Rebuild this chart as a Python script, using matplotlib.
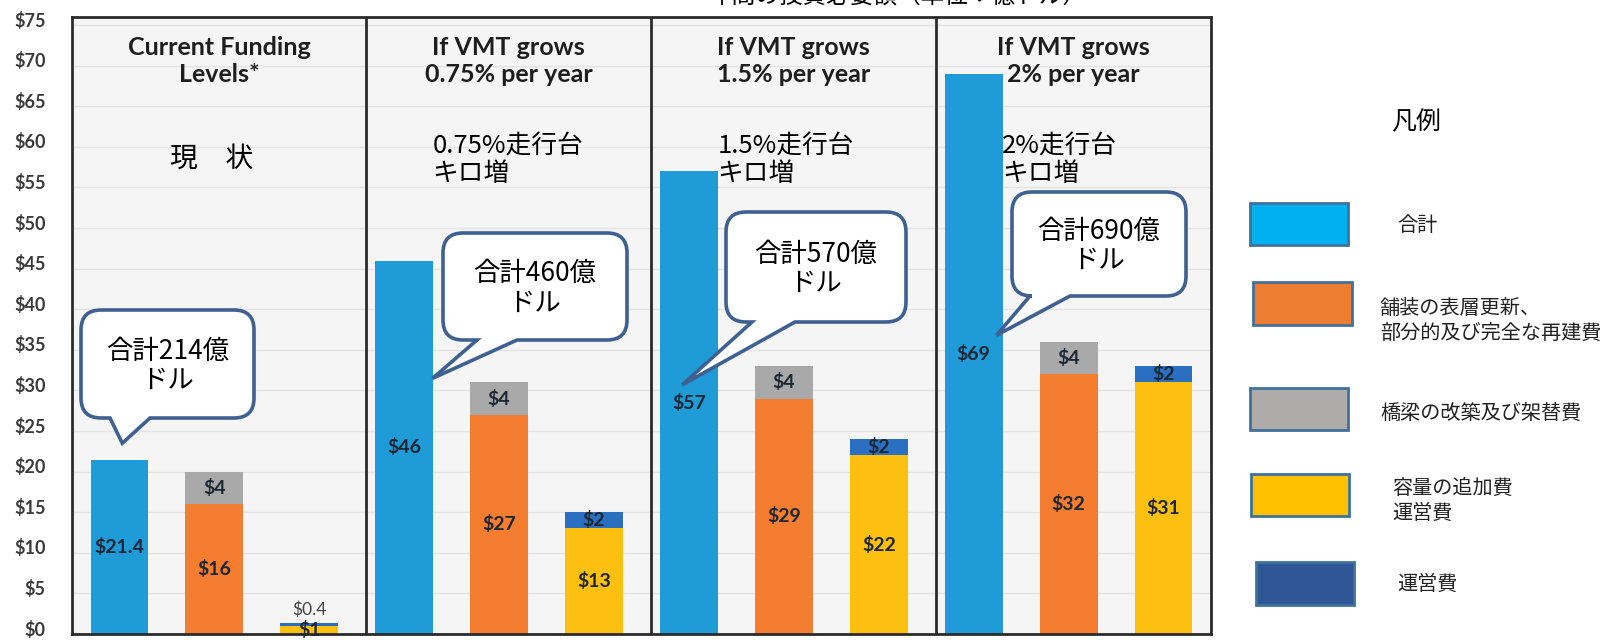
import numpy as np
import matplotlib
matplotlib.use('Agg')
import matplotlib.pyplot as plt
from matplotlib.path import Path
from matplotlib.patches import PathPatch, Rectangle
from matplotlib.transforms import ScaledTranslation

plt.rcParams['font.family'] = ['Lato', 'Noto Sans CJK JP', 'DejaVu Sans']
JP = ['Noto Sans CJK JP', 'DejaVu Sans']

# data
scenarios = ['Current Funding\nLevels*', 'If VMT grows\n0.75% per year',
             'If VMT grows\n1.5% per year', 'If VMT grows\n2% per year']
scenarios_jp = ['現　状', '0.75%走行台\nキロ増', '1.5%走行台\nキロ増', '2%走行台\nキロ増']
total = [21.4, 46, 57, 69]
pavement = [16, 27, 29, 32]
bridge = [4, 4, 4, 4]
capacity = [1, 13, 22, 31]
operations = [0.4, 2, 2, 2]
callout_texts = ['合計214億\nドル', '合計460億\nドル', '合計570億\nドル', '合計690億\nドル']
legend_labels = ['合計', '舗装の表層更新、\n部分的及び完全な再建費', '橋梁の改築及び架替費',
                 '容量の追加費\n運営費', '運営費']
yticks = list(range(0, 80, 5))
title_text = '年間の投資必要額（単位：億ドル）'

# colours
c_total = '#1f9bd7'
c_pave = '#f47d30'
c_bridge = '#a9a9a9'
c_cap = '#fdc010'
c_ops = '#2a6fc0'
leg_colors = ['#00b0f0', '#ed7d31', '#afabab', '#ffc000', '#2f5597']
lab_col = '#1d2733'

W, H = 1622, 644
fig = plt.figure(figsize=(W / 100, H / 100), dpi=100)
ax = fig.add_axes([72 / W, 1 - 634 / H, (1211 - 72) / W, (634 - 17) / H])
ax.set_facecolor('#f5f5f5')
ax.set_xlim(-0.5, 11.5)
ax.set_ylim(0, 76)

bw = 0.61
xt = np.arange(4) * 3
xp = xt + 1
xc = xt + 2

ax.bar(xt, total, bw, color=c_total, zorder=2)
ax.bar(xp, pavement, bw, color=c_pave, zorder=2)
ax.bar(xp, bridge, bw, bottom=pavement, color=c_bridge, zorder=2)
ax.bar(xc, capacity, bw, color=c_cap, zorder=2)
ax.bar(xc, operations, bw, bottom=capacity, color=c_ops, zorder=2)

lkw = dict(ha='center', va='center', fontsize=14, fontweight='bold', color=lab_col, zorder=3)
for i in range(4):
    ax.text(xt[i], total[i] / 2, f'${total[i]:g}', **lkw)
    ax.text(xp[i], pavement[i] / 2, f'${pavement[i]:g}', **lkw)
    ax.text(xp[i], pavement[i] + bridge[i] / 2, f'${bridge[i]:g}', **lkw)
    if operations[i] < 1:
        ax.text(xc[i], capacity[i] + operations[i] + 1.6, f'${operations[i]:g}',
                ha='center', va='center', fontsize=12.5, color='#444444', zorder=3)
        ax.text(xc[i], capacity[i] / 2, f'${capacity[i]:g}', clip_on=False, **lkw)
    else:
        ax.text(xc[i], capacity[i] / 2, f'${capacity[i]:g}', **lkw)
        ax.text(xc[i], capacity[i] + operations[i] / 2, f'${operations[i]:g}', **lkw)

# panel dividers and headers
dividers = [-0.5, 2.6, 5.6, 8.6, 11.5]
for d in dividers[1:-1]:
    ax.axvline(d, color='#2b2b2b', lw=2, zorder=4)
for i in range(4):
    cx = (dividers[i] + dividers[i + 1]) / 2
    ax.text(cx, 0.929, scenarios[i], transform=ax.get_xaxis_transform(), ha='center',
            va='center', fontsize=18, fontweight='bold', color='#1e1e1e', linespacing=1.2)
    if i == 0:
        ax.text(cx - 0.08, 58.6, scenarios_jp[i], ha='center', va='center',
                fontsize=20, family=JP, color='black')
    else:
        ax.text(xt[i] + 0.3, 58.4, scenarios_jp[i], ha='left', va='center',
                fontsize=18.5, family=JP, color='black', linespacing=1.15)

ax.set_yticks(yticks)
ax.set_yticklabels([f'${v}' for v in yticks], fontsize=13, fontweight='bold', color='#3a3a3a')
ax.set_xticks([])
ax.tick_params(axis='y', length=0, pad=19)
for lab in ax.get_yticklabels():
    lab.set_transform(lab.get_transform() + ScaledTranslation(0, 0.06, fig.dpi_scale_trans))
ax.yaxis.grid(True, color='#e4e4e4', lw=1, zorder=0)
ax.set_axisbelow(True)
for s in ax.spines.values():
    s.set_color('#2b2b2b')
    s.set_linewidth(2)

# overlay in pixel coordinates (top-left origin) for callouts and legend
ov = fig.add_axes([0, 0, 1, 1])
ov.set_xlim(0, W)
ov.set_ylim(H, 0)
ov.axis('off')
ov.patch.set_alpha(0)


def to_px(x, y):
    disp = ax.transData.transform((x, y))
    return ov.transData.inverted().transform(disp)


def callout(box, base, tip, text, r=20):
    x0, y0, x1, y1 = box
    b1, b2 = base
    tx, ty = tip
    verts = [(x0 + r, y1), (b1, y1), (tx, ty), (b2, y1), (x1 - r, y1),
             (x1, y1), (x1, y1 - r), (x1, y0 + r), (x1, y0), (x1 - r, y0),
             (x0 + r, y0), (x0, y0), (x0, y0 + r), (x0, y1 - r), (x0, y1), (x0 + r, y1),
             (x0 + r, y1)]
    codes = [Path.MOVETO, Path.LINETO, Path.LINETO, Path.LINETO, Path.LINETO,
             Path.CURVE3, Path.CURVE3, Path.LINETO, Path.CURVE3, Path.CURVE3,
             Path.LINETO, Path.CURVE3, Path.CURVE3, Path.LINETO, Path.CURVE3, Path.CURVE3,
             Path.CLOSEPOLY]
    ov.add_patch(PathPatch(Path(verts, codes), facecolor='white', edgecolor='#3e6191',
                           lw=2.6, joinstyle='miter'))
    ov.text((x0 + x1) / 2, (y0 + y1) / 2 + 2, text, ha='center', va='center',
            fontsize=19, family=JP, color='black', linespacing=1.12)


boxes = [(81, 310, 254, 418), (443, 233, 627, 340), (726, 212, 906, 322), (1012, 192, 1186, 296)]
bases = [(110, 150), (477, 517), (752, 795), (1030, 1070)]
tip_dx = [0.03, 0.30, -0.07, 0.24]
tip_y = [23.5, 31.5, 30.7, 36.8]
for i in range(4):
    callout(boxes[i], bases[i], to_px(xt[i] + tip_dx[i], tip_y[i]), callout_texts[i])

# legend
ov.text(1416, 122, '凡例', ha='center', va='center', fontsize=18, family=JP)
leg_boxes = [(1250, 203, 1348, 245), (1253, 282, 1352, 325), (1250, 388, 1348, 430),
             (1251, 474, 1349, 516), (1256, 562, 1354, 605)]
leg_text_pos = [(1397, 225), (1380, 321), (1380, 413), (1392, 501), (1397, 584)]
for (x0, y0, x1, y1), col, lab, (tx, ty) in zip(leg_boxes, leg_colors, legend_labels, leg_text_pos):
    ov.add_patch(Rectangle((x0, y0), x1 - x0, y1 - y0, facecolor=col, edgecolor='#41719c', lw=2))
    ov.text(tx, ty, lab, ha='left', va='center', fontsize=14.5, family=JP, color='#222222',
            linespacing=1.2)

# title, cut off at top in the source
ov.text(898, 3, title_text, ha='center', va='baseline', fontsize=17, family=JP, color='black')

fig.savefig('out.png', dpi=100)
